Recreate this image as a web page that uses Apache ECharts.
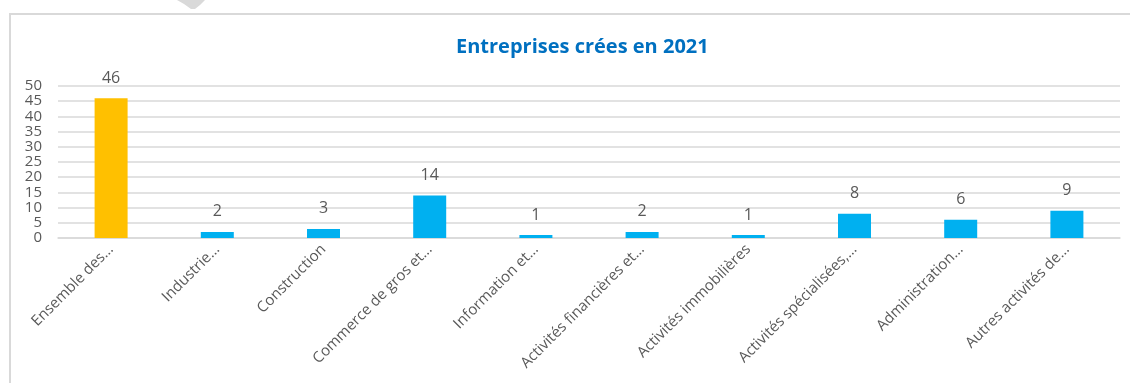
<!DOCTYPE html>
<html>
<head>
<meta charset="utf-8">
<script src="https://cdn.jsdelivr.net/npm/echarts@6/dist/echarts.min.js"></script>
<style>
  html, body { margin: 0; padding: 0; background: #fff; }
  #chart { width: 1130px; height: 383px; }
</style>
</head>
<body>
<div id="chart"></div>
<script>
// Secteurs d'activité (libellés tronqués tels qu'affichés)
const categories = [
  'Ensemble des…',
  'Industrie…',
  'Construction',
  'Commerce de gros et…',
  'Information et…',
  'Activités financières et…',
  'Activités immobilières',
  'Activités spécialisées,…',
  'Administration…',
  'Autres activités de…'
];
// Nombre d'entreprises créées par secteur
const values = [46, 2, 3, 14, 1, 2, 1, 8, 6, 9];
// Graduations de l'axe vertical
const yTicks = [0, 5, 10, 15, 20, 25, 30, 35, 40, 45, 50];

const TOTAL_COLOR = '#FFC000';
const SECTOR_COLOR = '#00B0F0';
const TEXT = '#595959';
const FONT = '"Open Sans", "DejaVu Sans", sans-serif';

const chart = echarts.init(document.getElementById('chart'), null, { renderer: 'canvas' });

chart.setOption({
  animation: false,
  backgroundColor: '#ffffff',
  title: {
    text: 'Entreprises crées en 2021',
    left: 451,
    top: 32,
    textStyle: { color: '#0070C0', fontSize: 20, fontWeight: 'bold', fontFamily: FONT }
  },
  graphic: [
    {
      type: 'rect',
      shape: { x: 10, y: 14, width: 1200, height: 420 },
      style: { fill: 'none', stroke: '#d9d9d9', lineWidth: 2 },
      silent: true
    },
    {
      type: 'polygon',
      shape: { points: [[177, 0], [205, 0], [200, 5], [195, 9], [191, 9], [184, 4]] },
      style: { fill: '#d9d9d9' },
      silent: true
    }
  ],
  grid: { left: 58, right: 10, top: 86, bottom: 145, containLabel: false },
  xAxis: {
    type: 'category',
    data: categories,
    axisLine: { show: true, lineStyle: { color: '#d9d9d9', width: 1.5 } },
    axisTick: { show: false },
    axisLabel: {
      rotate: 45,
      interval: 0,
      color: TEXT,
      fontSize: 15,
      fontFamily: FONT,
      margin: 9
    }
  },
  yAxis: {
    type: 'value',
    min: yTicks[0],
    max: yTicks[yTicks.length - 1],
    interval: yTicks[1] - yTicks[0],
    axisLine: { show: false },
    axisTick: { show: false },
    splitLine: { lineStyle: { color: '#d9d9d9', width: 1.5 } },
    axisLabel: { color: TEXT, fontSize: 15, fontFamily: FONT, margin: 16 }
  },
  series: [{
    type: 'bar',
    data: values.map((v, i) => ({
      value: v,
      itemStyle: { color: i === 0 ? TOTAL_COLOR : SECTOR_COLOR }
    })),
    barWidth: 33,
    label: {
      show: true,
      position: 'top',
      distance: 12,
      color: TEXT,
      fontSize: 16,
      fontFamily: FONT
    }
  }]
});
</script>
</body>
</html>
